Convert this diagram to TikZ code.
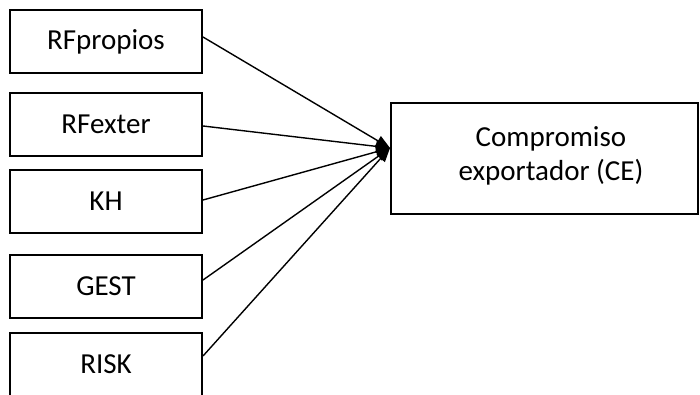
\documentclass[tikz,border=0pt]{standalone}
\usepackage{fontspec}
\setmainfont{Carlito}
\usetikzlibrary{arrows.meta}
\begin{document}
\begin{tikzpicture}[x=1pt,y=1pt,
  leftbox/.style={draw=black,line width=2pt,minimum width=192pt,minimum height=63pt,inner sep=0pt,font=\fontsize{29}{34}\selectfont},
  cebox/.style={draw=black,line width=2pt,minimum width=307pt,minimum height=111pt,inner sep=0pt,align=center,font=\fontsize{29}{34}\selectfont},
  link/.style={line width=1.4pt,-{Triangle[length=14pt,width=11pt]}}]
\useasboundingbox (0,0) rectangle (700,394);
\begin{scope}
\clip (0,0) rectangle (700,394);
\node[leftbox] (b1) at (106,352) {RFpropios};
\node[leftbox] (b2) at (106,269.5) {RFexter};
\node[leftbox] (b3) at (106,192.5) {KH};
\node[leftbox] (b4) at (106,108) {GEST};
\node[leftbox] (b5) at (106,30) {RISK};
\node[cebox] (ce) at (544.5,235.5) {};
\node[font=\fontsize{29}{34}\selectfont,align=center] (cet) at (551,238) {Compromiso\\exportador (CE)};
\coordinate (tip) at ([yshift=10.5pt]ce.west);
\draw[link] ([yshift=5pt]b1.east) -- (tip);
\draw[link] ([yshift=-1.5pt]b2.east) -- (tip);
\draw[link] ([yshift=1.5pt]b3.east) -- (tip);
\draw[link] ([yshift=6pt]b4.east) -- (tip);
\draw[link] ([yshift=8pt]b5.east) -- (tip);
\end{scope}
\end{tikzpicture}
\end{document}
